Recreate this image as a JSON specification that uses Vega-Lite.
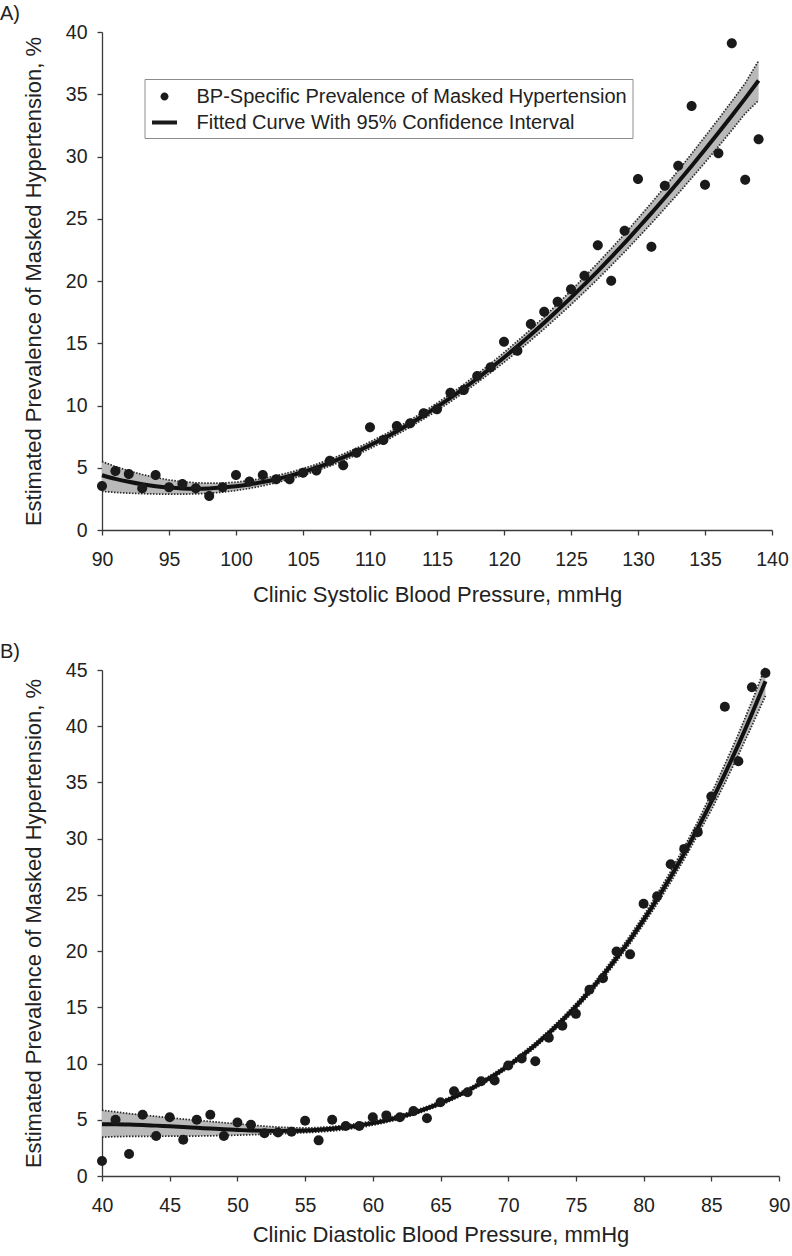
{
  "$schema": "https://vega.github.io/schema/vega-lite/v6.json",
  "background": "white",
  "padding": {"left": 0, "top": 4, "right": 10, "bottom": 5},
  "spacing": 36,
  "config": {
    "font": "Liberation Sans",
    "view": {"stroke": null},
    "axis": {
      "grid": false,
      "domainColor": "#3a3a3a",
      "tickColor": "#3a3a3a",
      "domainWidth": 1.3,
      "tickWidth": 1.3,
      "tickSize": 5,
      "labelColor": "#222222",
      "titleColor": "#222222",
      "labelFontSize": 19.5,
      "titleFontSize": 22,
      "titleFontWeight": "normal",
      "labelFlush": false,
      "labelOverlap": false,
      "labelBound": false
    },
    "axisX": {"labelPadding": 15},
    "axisY": {"labelPadding": 10, "titlePadding": 20}
  },
  "datasets": {
    "ptsA": [
      {"x": 90, "y": 3.53}, {"x": 91, "y": 4.74}, {"x": 92, "y": 4.5}, {"x": 93, "y": 3.35}, {"x": 94, "y": 4.42},
      {"x": 95, "y": 3.43}, {"x": 96, "y": 3.69}, {"x": 97, "y": 3.35}, {"x": 98, "y": 2.73}, {"x": 99, "y": 3.43},
      {"x": 100, "y": 4.42}, {"x": 101, "y": 3.9}, {"x": 102, "y": 4.42}, {"x": 103, "y": 4.07}, {"x": 104, "y": 4.07},
      {"x": 105, "y": 4.6}, {"x": 106, "y": 4.77}, {"x": 107, "y": 5.57}, {"x": 108, "y": 5.2}, {"x": 109, "y": 6.21},
      {"x": 110, "y": 8.25}, {"x": 111, "y": 7.23}, {"x": 112, "y": 8.35}, {"x": 113, "y": 8.57}, {"x": 114, "y": 9.37},
      {"x": 115, "y": 9.69}, {"x": 116, "y": 11.03}, {"x": 117, "y": 11.24}, {"x": 118, "y": 12.37}, {"x": 119, "y": 13.07},
      {"x": 120, "y": 15.13}, {"x": 121, "y": 14.4}, {"x": 122, "y": 16.55}, {"x": 123, "y": 17.54}, {"x": 124, "y": 18.34},
      {"x": 125, "y": 19.33}, {"x": 126, "y": 20.43}, {"x": 127, "y": 22.87}, {"x": 128, "y": 20.03}, {"x": 129, "y": 24.04},
      {"x": 130, "y": 28.19}, {"x": 131, "y": 22.76}, {"x": 132, "y": 27.66}, {"x": 133, "y": 29.26}, {"x": 134, "y": 34.06},
      {"x": 135, "y": 27.74}, {"x": 136, "y": 30.26}, {"x": 137, "y": 39.09}, {"x": 138, "y": 28.14}, {"x": 139, "y": 31.38}
    ],
    "fitA": [
      {"x": 90, "fit": 4.40, "lo": 3.10, "hi": 5.50}, {"x": 91, "fit": 4.11, "lo": 3.02, "hi": 5.10},
      {"x": 92, "fit": 3.87, "lo": 2.96, "hi": 4.75}, {"x": 93, "fit": 3.67, "lo": 2.92, "hi": 4.46},
      {"x": 94, "fit": 3.52, "lo": 2.89, "hi": 4.22}, {"x": 95, "fit": 3.41, "lo": 2.88, "hi": 4.02},
      {"x": 96, "fit": 3.34, "lo": 2.88, "hi": 3.88}, {"x": 97, "fit": 3.32, "lo": 2.90, "hi": 3.79},
      {"x": 98, "fit": 3.34, "lo": 2.95, "hi": 3.76}, {"x": 99, "fit": 3.41, "lo": 3.04, "hi": 3.77},
      {"x": 100, "fit": 3.51, "lo": 3.17, "hi": 3.84}, {"x": 101, "fit": 3.66, "lo": 3.34, "hi": 3.97},
      {"x": 102, "fit": 3.85, "lo": 3.55, "hi": 4.14}, {"x": 103, "fit": 4.08, "lo": 3.80, "hi": 4.36},
      {"x": 104, "fit": 4.35, "lo": 4.08, "hi": 4.62}, {"x": 105, "fit": 4.66, "lo": 4.39, "hi": 4.93},
      {"x": 106, "fit": 5.01, "lo": 4.74, "hi": 5.28}, {"x": 107, "fit": 5.40, "lo": 5.13, "hi": 5.67},
      {"x": 108, "fit": 5.83, "lo": 5.56, "hi": 6.10}, {"x": 109, "fit": 6.30, "lo": 6.03, "hi": 6.57},
      {"x": 110, "fit": 6.81, "lo": 6.54, "hi": 7.08}, {"x": 111, "fit": 7.35, "lo": 7.08, "hi": 7.62},
      {"x": 112, "fit": 7.93, "lo": 7.66, "hi": 8.20}, {"x": 113, "fit": 8.55, "lo": 8.27, "hi": 8.83},
      {"x": 114, "fit": 9.20, "lo": 8.91, "hi": 9.49}, {"x": 115, "fit": 9.89, "lo": 9.59, "hi": 10.19},
      {"x": 116, "fit": 10.61, "lo": 10.30, "hi": 10.92}, {"x": 117, "fit": 11.37, "lo": 11.05, "hi": 11.69},
      {"x": 118, "fit": 12.17, "lo": 11.83, "hi": 12.51}, {"x": 119, "fit": 13.00, "lo": 12.64, "hi": 13.36},
      {"x": 120, "fit": 13.86, "lo": 13.47, "hi": 14.25}, {"x": 121, "fit": 14.75, "lo": 14.33, "hi": 15.17},
      {"x": 122, "fit": 15.68, "lo": 15.23, "hi": 16.13}, {"x": 123, "fit": 16.64, "lo": 16.16, "hi": 17.12},
      {"x": 124, "fit": 17.64, "lo": 17.12, "hi": 18.16}, {"x": 125, "fit": 18.66, "lo": 18.10, "hi": 19.22},
      {"x": 126, "fit": 19.72, "lo": 19.12, "hi": 20.32}, {"x": 127, "fit": 20.80, "lo": 20.16, "hi": 21.44},
      {"x": 128, "fit": 21.92, "lo": 21.24, "hi": 22.60}, {"x": 129, "fit": 23.06, "lo": 22.34, "hi": 23.78},
      {"x": 130, "fit": 24.25, "lo": 23.48, "hi": 25.02}, {"x": 131, "fit": 25.45, "lo": 24.63, "hi": 26.27},
      {"x": 132, "fit": 26.69, "lo": 25.82, "hi": 27.56}, {"x": 133, "fit": 27.95, "lo": 27.03, "hi": 28.87},
      {"x": 134, "fit": 29.24, "lo": 28.26, "hi": 30.22}, {"x": 135, "fit": 30.56, "lo": 29.52, "hi": 31.60},
      {"x": 136, "fit": 31.90, "lo": 30.80, "hi": 33.00}, {"x": 137, "fit": 33.27, "lo": 32.11, "hi": 34.43},
      {"x": 138, "fit": 34.67, "lo": 33.45, "hi": 35.89}, {"x": 139, "fit": 36.10, "lo": 34.50, "hi": 37.70}
    ],
    "ptsB": [
      {"x": 40, "y": 1.33}, {"x": 41, "y": 5.0}, {"x": 42, "y": 1.96}, {"x": 43, "y": 5.45}, {"x": 44, "y": 3.55},
      {"x": 45, "y": 5.23}, {"x": 46, "y": 3.23}, {"x": 47, "y": 5.0}, {"x": 48, "y": 5.45}, {"x": 49, "y": 3.55},
      {"x": 50, "y": 4.75}, {"x": 51, "y": 4.56}, {"x": 52, "y": 3.8}, {"x": 53, "y": 3.87}, {"x": 54, "y": 3.93},
      {"x": 55, "y": 4.91}, {"x": 56, "y": 3.17}, {"x": 57, "y": 5.0}, {"x": 58, "y": 4.44}, {"x": 59, "y": 4.44},
      {"x": 60, "y": 5.23}, {"x": 61, "y": 5.39}, {"x": 62, "y": 5.23}, {"x": 63, "y": 5.77}, {"x": 64, "y": 5.13},
      {"x": 65, "y": 6.56}, {"x": 66, "y": 7.54}, {"x": 67, "y": 7.45}, {"x": 68, "y": 8.43}, {"x": 69, "y": 8.49},
      {"x": 70, "y": 9.82}, {"x": 71, "y": 10.46}, {"x": 72, "y": 10.2}, {"x": 73, "y": 12.29}, {"x": 74, "y": 13.37},
      {"x": 75, "y": 14.42}, {"x": 76, "y": 16.57}, {"x": 77, "y": 17.59}, {"x": 78, "y": 19.96}, {"x": 79, "y": 19.71},
      {"x": 80, "y": 24.21}, {"x": 81, "y": 24.87}, {"x": 82, "y": 27.72}, {"x": 83, "y": 29.09}, {"x": 84, "y": 30.58},
      {"x": 85, "y": 33.75}, {"x": 86, "y": 41.73}, {"x": 87, "y": 36.88}, {"x": 88, "y": 43.47}, {"x": 89, "y": 44.74}
    ],
    "fitB": [
      {"x": 40, "fit": 4.60, "lo": 3.45, "hi": 5.85}, {"x": 41, "fit": 4.60, "lo": 3.50, "hi": 5.70},
      {"x": 42, "fit": 4.57, "lo": 3.52, "hi": 5.55}, {"x": 43, "fit": 4.54, "lo": 3.53, "hi": 5.42},
      {"x": 44, "fit": 4.48, "lo": 3.53, "hi": 5.30}, {"x": 45, "fit": 4.42, "lo": 3.54, "hi": 5.18},
      {"x": 46, "fit": 4.36, "lo": 3.54, "hi": 5.06}, {"x": 47, "fit": 4.29, "lo": 3.55, "hi": 4.95},
      {"x": 48, "fit": 4.22, "lo": 3.57, "hi": 4.85}, {"x": 49, "fit": 4.15, "lo": 3.60, "hi": 4.74},
      {"x": 50, "fit": 4.10, "lo": 3.63, "hi": 4.64}, {"x": 51, "fit": 4.05, "lo": 3.67, "hi": 4.53},
      {"x": 52, "fit": 4.02, "lo": 3.71, "hi": 4.43}, {"x": 53, "fit": 4.01, "lo": 3.75, "hi": 4.35},
      {"x": 54, "fit": 4.02, "lo": 3.80, "hi": 4.30}, {"x": 55, "fit": 4.05, "lo": 3.85, "hi": 4.27},
      {"x": 56, "fit": 4.11, "lo": 3.91, "hi": 4.31}, {"x": 57, "fit": 4.20, "lo": 4.00, "hi": 4.40},
      {"x": 58, "fit": 4.33, "lo": 4.13, "hi": 4.53}, {"x": 59, "fit": 4.49, "lo": 4.30, "hi": 4.69},
      {"x": 60, "fit": 4.70, "lo": 4.51, "hi": 4.89}, {"x": 61, "fit": 4.95, "lo": 4.76, "hi": 5.14},
      {"x": 62, "fit": 5.25, "lo": 5.06, "hi": 5.44}, {"x": 63, "fit": 5.60, "lo": 5.42, "hi": 5.79},
      {"x": 64, "fit": 6.01, "lo": 5.83, "hi": 6.19}, {"x": 65, "fit": 6.48, "lo": 6.29, "hi": 6.66},
      {"x": 66, "fit": 7.00, "lo": 6.82, "hi": 7.19}, {"x": 67, "fit": 7.59, "lo": 7.41, "hi": 7.78},
      {"x": 68, "fit": 8.26, "lo": 8.07, "hi": 8.45}, {"x": 69, "fit": 8.99, "lo": 8.79, "hi": 9.19},
      {"x": 70, "fit": 9.80, "lo": 9.59, "hi": 10.00}, {"x": 71, "fit": 10.68, "lo": 10.47, "hi": 10.90},
      {"x": 72, "fit": 11.65, "lo": 11.43, "hi": 11.88}, {"x": 73, "fit": 12.71, "lo": 12.47, "hi": 12.95},
      {"x": 74, "fit": 13.85, "lo": 13.60, "hi": 14.11}, {"x": 75, "fit": 15.09, "lo": 14.82, "hi": 15.36},
      {"x": 76, "fit": 16.42, "lo": 16.13, "hi": 16.71}, {"x": 77, "fit": 17.85, "lo": 17.54, "hi": 18.16},
      {"x": 78, "fit": 19.38, "lo": 19.05, "hi": 19.72}, {"x": 79, "fit": 21.02, "lo": 20.66, "hi": 21.39},
      {"x": 80, "fit": 22.77, "lo": 22.37, "hi": 23.17}, {"x": 81, "fit": 24.63, "lo": 24.19, "hi": 25.08},
      {"x": 82, "fit": 26.61, "lo": 26.12, "hi": 27.10}, {"x": 83, "fit": 28.71, "lo": 28.17, "hi": 29.25},
      {"x": 84, "fit": 30.93, "lo": 30.34, "hi": 31.52}, {"x": 85, "fit": 33.28, "lo": 32.55, "hi": 34.00},
      {"x": 86, "fit": 35.76, "lo": 34.95, "hi": 36.60}, {"x": 87, "fit": 38.36, "lo": 37.45, "hi": 39.30},
      {"x": 88, "fit": 41.11, "lo": 40.05, "hi": 42.20}, {"x": 89, "fit": 43.99, "lo": 42.70, "hi": 45.30}
    ]
  },
  "vconcat": [
    {
      "width": 670,
      "height": 498,
      "title": {"text": "A)", "anchor": "start", "frame": "group", "dx": -102, "offset": -2, "fontSize": 20, "fontWeight": "normal", "color": "#222222"},
      "layer": [
        {
          "data": {"name": "fitA"},
          "mark": {"type": "area", "color": "#b9b9b9", "opacity": 1},
          "encoding": {
            "x": {"field": "x", "type": "quantitative", "scale": {"domain": [90, 140], "nice": false, "zero": false}, "axis": {"values": [90, 95, 100, 105, 110, 115, 120, 125, 130, 135, 140], "titlePadding": 16}, "title": "Clinic Systolic Blood Pressure, mmHg"},
            "y": {"field": "lo", "type": "quantitative", "scale": {"domain": [0, 40], "nice": false}, "axis": {"values": [0, 5, 10, 15, 20, 25, 30, 35, 40]}, "title": "Estimated Prevalence of Masked Hypertension, %"},
            "y2": {"field": "hi"}
          }
        },
        {
          "data": {"name": "fitA"},
          "mark": {"type": "line", "color": "#2a2a2a", "strokeWidth": 1.7, "strokeDash": [1.5, 1.5]},
          "encoding": {
            "x": {"field": "x", "type": "quantitative", "title": "Clinic Systolic Blood Pressure, mmHg"},
            "y": {"field": "hi", "type": "quantitative", "title": "Estimated Prevalence of Masked Hypertension, %"}
          }
        },
        {
          "data": {"name": "fitA"},
          "mark": {"type": "line", "color": "#2a2a2a", "strokeWidth": 1.7, "strokeDash": [1.5, 1.5]},
          "encoding": {
            "x": {"field": "x", "type": "quantitative", "title": "Clinic Systolic Blood Pressure, mmHg"},
            "y": {"field": "lo", "type": "quantitative", "title": "Estimated Prevalence of Masked Hypertension, %"}
          }
        },
        {
          "data": {"name": "fitA"},
          "mark": {"type": "line", "color": "#111111", "strokeWidth": 4, "interpolate": "monotone"},
          "encoding": {
            "x": {"field": "x", "type": "quantitative", "title": "Clinic Systolic Blood Pressure, mmHg"},
            "y": {"field": "fit", "type": "quantitative", "title": "Estimated Prevalence of Masked Hypertension, %"}
          }
        },
        {
          "data": {"name": "ptsA"},
          "mark": {"type": "point", "filled": true, "size": 977, "opacity": 1, "color": "#1a1a1a"},
          "encoding": {
            "x": {"field": "x", "type": "quantitative", "title": "Clinic Systolic Blood Pressure, mmHg"},
            "y": {"field": "y", "type": "quantitative", "title": "Estimated Prevalence of Masked Hypertension, %"},
            "shape": {
              "datum": "BP-Specific Prevalence of Masked Hypertension",
              "type": "nominal",
              "scale": {
                "domain": ["BP-Specific Prevalence of Masked Hypertension", "Fitted Curve With 95% Confidence Interval"],
                "range": ["M-0.32,0A0.32,0.32,0,1,0,0.32,0A0.32,0.32,0,1,0,-0.32,0Z", "M-1,-0.16H1V0.16H-1Z"]
              },
              "legend": {
                "title": null,
                "orient": "none",
                "legendX": 42.5,
                "legendY": 47,
                "labelFontSize": 20,
                "labelColor": "#222222",
                "labelLimit": 700,
                "labelExpr": "datum.label + '\u00a0\u00a0\u00a0\u00a0'",
                "symbolSize": 625,
                "symbolOffset": 2.5,
                "symbolFillColor": "#1a1a1a",
                "symbolStrokeWidth": 0,
                "labelOffset": 19.5,
                "padding": 5,
                "rowPadding": 3,
                "strokeColor": "#8c8c8c",
                "fillColor": "white"
              }
            }
          }
        }
      ]
    },
    {
      "width": 677,
      "height": 506,
      "title": {"text": "B)", "anchor": "start", "frame": "group", "dx": -102, "offset": -2, "fontSize": 20, "fontWeight": "normal", "color": "#222222"},
      "layer": [
        {
          "data": {"name": "fitB"},
          "mark": {"type": "area", "color": "#b9b9b9", "opacity": 1},
          "encoding": {
            "x": {"field": "x", "type": "quantitative", "scale": {"domain": [40, 90], "nice": false, "zero": false}, "axis": {"values": [40, 45, 50, 55, 60, 65, 70, 75, 80, 85, 90], "titlePadding": 10}, "title": "Clinic Diastolic Blood Pressure, mmHg"},
            "y": {"field": "lo", "type": "quantitative", "scale": {"domain": [0, 45], "nice": false}, "axis": {"values": [0, 5, 10, 15, 20, 25, 30, 35, 40, 45]}, "title": "Estimated Prevalence of Masked Hypertension, %"},
            "y2": {"field": "hi"}
          }
        },
        {
          "data": {"name": "fitB"},
          "mark": {"type": "line", "color": "#2a2a2a", "strokeWidth": 1.7, "strokeDash": [1.5, 1.5]},
          "encoding": {
            "x": {"field": "x", "type": "quantitative", "title": "Clinic Diastolic Blood Pressure, mmHg"},
            "y": {"field": "hi", "type": "quantitative", "title": "Estimated Prevalence of Masked Hypertension, %"}
          }
        },
        {
          "data": {"name": "fitB"},
          "mark": {"type": "line", "color": "#2a2a2a", "strokeWidth": 1.7, "strokeDash": [1.5, 1.5]},
          "encoding": {
            "x": {"field": "x", "type": "quantitative", "title": "Clinic Diastolic Blood Pressure, mmHg"},
            "y": {"field": "lo", "type": "quantitative", "title": "Estimated Prevalence of Masked Hypertension, %"}
          }
        },
        {
          "data": {"name": "fitB"},
          "mark": {"type": "line", "color": "#111111", "strokeWidth": 4, "interpolate": "monotone"},
          "encoding": {
            "x": {"field": "x", "type": "quantitative", "title": "Clinic Diastolic Blood Pressure, mmHg"},
            "y": {"field": "fit", "type": "quantitative", "title": "Estimated Prevalence of Masked Hypertension, %"}
          }
        },
        {
          "data": {"name": "ptsB"},
          "mark": {"type": "point", "filled": true, "size": 100, "opacity": 1, "color": "#1a1a1a"},
          "encoding": {
            "x": {"field": "x", "type": "quantitative", "title": "Clinic Diastolic Blood Pressure, mmHg"},
            "y": {"field": "y", "type": "quantitative", "title": "Estimated Prevalence of Masked Hypertension, %"}
          }
        }
      ]
    }
  ]
}
